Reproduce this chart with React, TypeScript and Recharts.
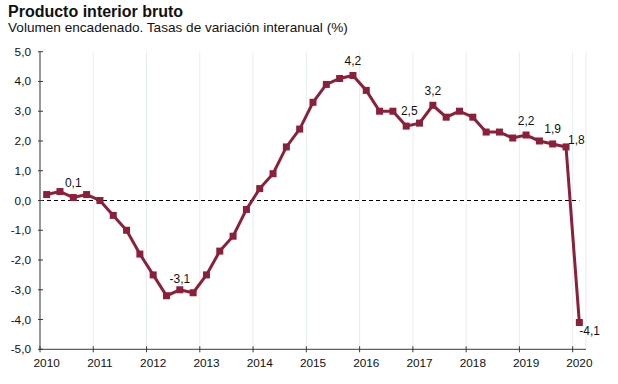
import React from 'react';
import { LineChart, Line, XAxis, YAxis, CartesianGrid, ReferenceLine } from 'recharts';

const years = [2010, 2011, 2012, 2013, 2014, 2015, 2016, 2017, 2018, 2019, 2020];
const quarters = [1, 2, 3, 4];

// Tasa de variación interanual (%), 2010T1 .. 2020T1
const gdpGrowth = [
  0.2, 0.3, 0.1, 0.2,
  0.0, -0.5, -1.0, -1.8,
  -2.5, -3.2, -3.0, -3.1,
  -2.5, -1.7, -1.2, -0.3,
  0.4, 0.9, 1.8, 2.4,
  3.3, 3.9, 4.1, 4.2,
  3.7, 3.0, 3.0, 2.5,
  2.6, 3.2, 2.8, 3.0,
  2.8, 2.3, 2.3, 2.1,
  2.2, 2.0, 1.9, 1.8,
  -4.1,
];

const yTicks = [-5, -4, -3, -2, -1, 0, 1, 2, 3, 4, 5];

const pointLabels = [
  { period: '2010T3', text: '0,1' },
  { period: '2012T3', text: '-3,1' },
  { period: '2015T4', text: '4,2' },
  { period: '2016T4', text: '2,5' },
  { period: '2017T2', text: '3,2' },
  { period: '2019T1', text: '2,2' },
  { period: '2019T3', text: '1,9' },
  { period: '2019T4', text: '1,8' },
  { period: '2020T1', text: '-4,1' },
];

const data = gdpGrowth.map((value, i) => {
  const year = years[0] + Math.floor(i / 4);
  const q = quarters[i % 4];
  const period = `${year}T${q}`;
  return {
    t: year + (q - 0.5) / 4,
    period,
    value,
    label: pointLabels.find((l) => l.period === period)?.text,
  };
});

const LINE_COLOR = '#8c1f3a';
const AXIS_COLOR = '#3a3a3a';
const FONT = '"Liberation Sans", Arial, sans-serif';

// where the label sits relative to its point
const labelPlacement: Record<string, { dx: number; dy: number; anchor: 'middle' | 'start' }> = {
  '2012T3': { dx: 0, dy: -7, anchor: 'middle' },
  '2016T4': { dx: 3, dy: -11, anchor: 'middle' },
  '2019T4': { dx: 2, dy: -3, anchor: 'start' },
  '2020T1': { dx: 0, dy: 12, anchor: 'start' },
};

const fmt = (v: number) => v.toFixed(1).replace('.', ',');

const SquareDot = (props: any) => {
  const { cx, cy, index, payload } = props;
  if (cx == null || cy == null) return null;
  const place = labelPlacement[payload.period] || { dx: 0, dy: -10.5, anchor: 'middle' };
  return (
    <g key={`dot-${index}`}>
      <rect x={cx - 3.5} y={cy - 3.5} width={7} height={7} fill={LINE_COLOR} />
      {payload.label && (
        <text
          x={cx + place.dx}
          y={cy + place.dy}
          textAnchor={place.anchor}
          fontSize={12}
          fontFamily={FONT}
          fill="#111"
        >
          {payload.label}
        </text>
      )}
    </g>
  );
};

const XTick = (props: any) => {
  const { x, y, payload } = props;
  return (
    <g>
      <line x1={x} x2={x} y1={y - 3} y2={y + 3} stroke={AXIS_COLOR} />
      <text x={x + 6.7} y={y + 17.5} textAnchor="middle" fontSize={11.8} fontFamily={FONT} fill="#111">
        {payload.value}
      </text>
    </g>
  );
};

const YTick = (props: any) => {
  const { x, y, payload } = props;
  return (
    <g>
      <line x1={x - 2} x2={x + 3} y1={y} y2={y} stroke={AXIS_COLOR} />
      <text x={x - 9} y={y + 4} textAnchor="end" fontSize={11.8} fontFamily={FONT} fill="#111">
        {fmt(payload.value)}
      </text>
    </g>
  );
};

export default function App() {
  const last = data[data.length - 1];
  return (
    <div style={{ position: 'absolute', left: 0, top: 0, width: 618, height: 384, background: '#fff', fontFamily: FONT }}>
      <div style={{ position: 'absolute', left: 8, top: 2, fontSize: 16, fontWeight: 700, color: '#111', lineHeight: '19px' }}>
        Producto interior bruto
      </div>
      <div style={{ position: 'absolute', left: 8, top: 19, fontSize: 13.6, color: '#111', lineHeight: '17px' }}>
        Volumen encadenado. Tasas de variación interanual (%)
      </div>
      <LineChart
        width={618}
        height={384}
        data={data}
        margin={{ top: 51.7, right: 32, bottom: 0, left: 0 }}
        style={{ position: 'absolute', left: 0, top: 0 }}
      >
        <CartesianGrid horizontal={false} stroke="#e6edf2" />
        <XAxis
          dataKey="t"
          type="number"
          domain={[years[0], years[years.length - 1] + 0.25]}
          ticks={years}
          height={34.7}
          tickSize={0}
          tickMargin={0}
          tickLine={false}
          axisLine={{ stroke: AXIS_COLOR }}
          tick={<XTick />}
          interval={0}
        />
        <YAxis
          domain={[-5, 5]}
          ticks={yTicks}
          width={40}
          tickSize={0}
          tickMargin={0}
          tickLine={false}
          axisLine={{ stroke: AXIS_COLOR }}
          tick={<YTick />}
          interval={0}
        />
        <ReferenceLine
          segment={[{ x: years[0], y: 0 }, { x: last.t, y: 0 }]}
          stroke="#000"
          strokeDasharray="4 3"
        />
        <Line
          type="linear"
          dataKey="value"
          stroke={LINE_COLOR}
          strokeWidth={3}
          dot={SquareDot}
          activeDot={false}
          isAnimationActive={false}
        />
      </LineChart>
    </div>
  );
}
